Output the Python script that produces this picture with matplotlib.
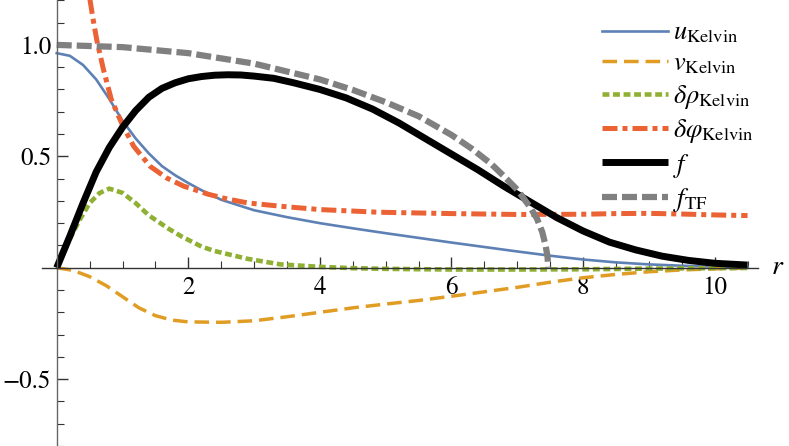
import numpy as np
import matplotlib
matplotlib.use("Agg")
import matplotlib.pyplot as plt

plt.rcParams['font.family'] = ['STIXGeneral', 'Liberation Serif', 'DejaVu Serif']
plt.rcParams['mathtext.fontset'] = 'stix'

# values
r_u = [0, 0.2, 0.4, 0.6, 0.8, 1.0, 1.2, 1.4, 1.6, 1.8, 2.0, 2.2, 2.5, 3.0,
       3.5, 4.0, 4.5, 5.0, 5.5, 6.0, 6.5, 7.0, 7.5, 8.0, 8.5, 9.0, 9.5, 10.0,
       10.5]
u_kelvin = [0.963, 0.951, 0.91, 0.845, 0.757, 0.66, 0.58, 0.513, 0.456, 0.415,
            0.38, 0.348, 0.305, 0.258, 0.227, 0.2, 0.177, 0.155, 0.134, 0.113,
            0.093, 0.073, 0.054, 0.037, 0.024, 0.015, 0.009, 0.005, 0.003]

r_v = [0, 0.25, 0.5, 0.75, 1.0, 1.25, 1.5, 1.75, 2.0, 2.5, 3.0, 3.5, 4.0, 4.5,
       5.0, 5.5, 6.0, 6.5, 7.0, 7.5, 8.0, 8.5, 9.0, 9.5, 10.0, 10.5]
v_kelvin = [0, -0.012, -0.04, -0.08, -0.13, -0.18, -0.215, -0.235, -0.243,
            -0.245, -0.238, -0.22, -0.2, -0.18, -0.163, -0.147, -0.128, -0.108,
            -0.088, -0.065, -0.045, -0.03, -0.018, -0.01, -0.005, -0.002]

r_rho = [0, 0.2, 0.35, 0.5, 0.65, 0.8, 1.0, 1.2, 1.4, 1.7, 1.9, 2.2, 2.4, 2.9,
         3.4, 4.0, 4.5, 5.0, 6.0, 7.0, 8.0, 9.0, 10.0, 10.5]
drho_kelvin = [0, 0.13, 0.215, 0.29, 0.335, 0.355, 0.336, 0.29, 0.235, 0.175,
               0.14, 0.095, 0.075, 0.04, 0.015, 0.004, -0.002, -0.005, -0.008,
               -0.008, -0.007, -0.004, -0.002, -0.001]

r_phi = [0.48, 0.55, 0.61, 0.71, 0.83, 1.0, 1.17, 1.42, 1.67, 1.93, 2.1, 2.3,
         2.6, 2.9, 3.4, 4.0, 4.9, 6.0, 7.0, 8.0, 8.5, 9.0, 9.5, 10.0, 10.5]
dphi_kelvin = [1.25, 1.12, 1.02, 0.89, 0.755, 0.64, 0.545, 0.455, 0.403, 0.366,
               0.35, 0.33, 0.308, 0.291, 0.276, 0.261, 0.249, 0.243, 0.239,
               0.24, 0.243, 0.244, 0.241, 0.237, 0.234]

r_f = [0, 0.2, 0.4, 0.6, 0.8, 1.0, 1.2, 1.4, 1.6, 1.8, 2.0, 2.2, 2.4, 2.6,
       2.8, 3.0, 3.3, 3.6, 4.0, 4.4, 4.8, 5.2, 5.6, 6.0, 6.4, 6.8, 7.2, 7.6,
       8.0, 8.4, 8.8, 9.2, 9.6, 10.0, 10.5]
f_vals = [0, 0.142, 0.29, 0.43, 0.54, 0.63, 0.705, 0.765, 0.805, 0.83, 0.848,
          0.858, 0.864, 0.866, 0.865, 0.86, 0.85, 0.83, 0.8, 0.762, 0.712,
          0.65, 0.58, 0.51, 0.44, 0.365, 0.295, 0.225, 0.165, 0.115, 0.08,
          0.052, 0.033, 0.02, 0.012]

r_tf = [0, 1.0, 2.0, 3.0, 4.0, 4.5, 5.0, 5.5, 6.0, 6.3, 6.6, 6.8, 7.0, 7.1,
        7.2, 7.3, 7.38, 7.43, 7.46, 7.47]
f_tf = [1.0, 0.99, 0.963, 0.916, 0.845, 0.798, 0.743, 0.68, 0.596, 0.536,
        0.467, 0.41, 0.35, 0.31, 0.27, 0.22, 0.16, 0.1, 0.05, 0.0]

fig = plt.figure(figsize=(7.89, 4.46), dpi=100)
ax = fig.add_axes([0, 0, 1, 1])

ax.plot(r_u, u_kelvin, color='#5E81B5', lw=1.9, label=r'$u_{\mathrm{Kelvin}}$')
ax.plot(r_v, v_kelvin, color='#E19C24', lw=2.5, ls=(0, (4.2, 2.0)),
        label=r'$v_{\mathrm{Kelvin}}$')
ax.plot(r_rho, drho_kelvin, color='#8FB032', lw=3.3, ls=(0, (1.5, 0.8)),
        label=r'$\delta\rho_{\mathrm{Kelvin}}$')
ax.plot(r_phi, dphi_kelvin, color='#EB6235', lw=3.6, ls=(0, (3, 1, 1, 1)),
        label=r'$\delta\varphi_{\mathrm{Kelvin}}$')
ax.plot(r_f, f_vals, color='black', lw=5, solid_capstyle='butt', label=r'$f$')
ax.plot(r_tf, f_tf, color='#808080', lw=4.5, ls=(0, (2.4, 0.8)),
        label=r'$f_{\mathrm{TF}}$')

ax.set_xlim(-0.862, 11.13)
ax.set_ylim(-0.796, 1.2015)

for s in ['top', 'right']:
    ax.spines[s].set_visible(False)
ax.spines['left'].set_position(('data', 0))
ax.spines['bottom'].set_position(('data', 0))
ax.spines['bottom'].set_bounds(-0.22, 10.66)
ax.spines['left'].set_color('#666666')
ax.spines['bottom'].set_color('#333333')
ax.spines['left'].set_linewidth(1.0)
ax.spines['bottom'].set_linewidth(1.0)

ax.set_xticks([2, 4, 6, 8, 10])
ax.set_xticks([0.5, 1, 1.5, 2.5, 3, 3.5, 4.5, 5, 5.5, 6.5, 7, 7.5, 8.5, 9,
               9.5, 10.5], minor=True)
ax.set_yticks([-0.5, 0.5, 1.0])
ax.set_yticklabels(['\u22120.5', '0.5', '1.0'])
ax.set_yticks([-0.8, -0.7, -0.6, -0.4, -0.3, -0.2, -0.1, 0.1, 0.2, 0.3, 0.4,
               0.6, 0.7, 0.8, 0.9, 1.1, 1.2], minor=True)
ax.tick_params(axis='both', which='both', direction='in', labelsize=18,
               color='#333333')
ax.tick_params(axis='both', which='major', length=8, width=1.0)
ax.tick_params(axis='both', which='minor', length=5, width=0.8)
ax.tick_params(axis='x', pad=6)
ax.tick_params(axis='y', pad=4)

ax.text(10.85, 0, r'$r$', fontsize=20, va='center', ha='left')

leg = ax.legend(loc='upper left', bbox_to_anchor=(0.763, 0.952),
                frameon=False, fontsize=19, handlelength=2.5,
                handletextpad=0.2, labelspacing=0.24, borderpad=0,
                borderaxespad=0)

fig.savefig('out.png', dpi=100)
